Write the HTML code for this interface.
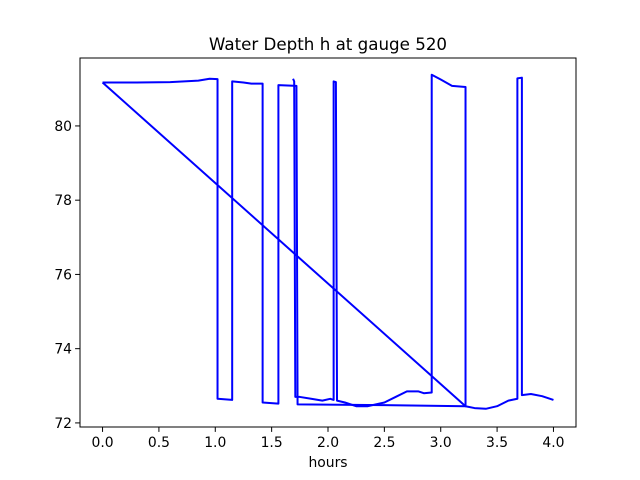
<!DOCTYPE html>
<html><head><meta charset="utf-8"><style>body{margin:0;background:#fff}svg{display:block;font-family:"DejaVu Sans","Liberation Sans",sans-serif}</style></head>
<body>
<svg id="c" width="640" height="480"></svg>
<script>
const xTicks=[0,0.5,1.0,1.5,2.0,2.5,3.0,3.5,4.0];
const xTickLabels=["0.0","0.5","1.0","1.5","2.0","2.5","3.0","3.5","4.0"];
const yTicks=[72,74,76,78,80];
const yTickLabels=["72","74","76","78","80"];
const hoursA=[0,0.3,0.6,0.85,0.95,1.02,1.02,1.15,1.15,1.25,1.32,1.42,1.42,1.56,1.56,1.72,1.73,2.5,3.22,0];
const depthA=[81.17,81.17,81.18,81.22,81.27,81.26,72.65,72.62,81.2,81.17,81.14,81.14,72.55,72.52,81.1,81.08,72.5,72.48,72.45,81.17];
const hoursB=[1.69,1.70,1.71,1.75,1.85,1.95,2.02,2.05,2.05,2.07,2.08,2.15,2.25,2.35,2.5,2.6,2.7,2.8,2.85,2.92,2.92,3.0,3.1,3.22,3.22,3.3,3.4,3.5,3.6,3.68,3.68,3.72,3.72,3.8,3.9,4.0];
const depthB=[81.27,81.2,72.7,72.7,72.65,72.6,72.65,72.62,81.2,81.18,72.6,72.55,72.45,72.45,72.55,72.7,72.85,72.85,72.8,72.82,81.38,81.25,81.08,81.05,72.45,72.4,72.38,72.45,72.6,72.65,81.28,81.3,72.75,72.78,72.72,72.62];
const L=80,R=576,T=58,B=427,x0=-0.2,x1=4.2,y0=71.89,y1=81.83;
const X=v=>L+(v-x0)/(x1-x0)*(R-L), Y=v=>B-(v-y0)/(y1-y0)*(B-T);
const svg=document.getElementById('c'),NS='http://www.w3.org/2000/svg';
function mk(t,a,p){const e=document.createElementNS(NS,t);for(const k in a)e.setAttribute(k,a[k]);(p||svg).appendChild(e);return e;}
function line(h,d,name){const el=mk('polyline',{points:h.map((v,i)=>X(v)+','+Y(d[i])).join(' '),fill:'none',stroke:'#0000ff','stroke-width':2,'stroke-linejoin':'round'});

}
line(hoursA,depthA,'depth-line-a');
line(hoursB,depthB,'depth-line-b');
const fr=mk('rect',{x:L,y:T,width:R-L,height:B-T,fill:'none',stroke:'#000','stroke-width':1});


xTicks.forEach((v,i)=>{mk('line',{x1:X(v),x2:X(v),y1:B,y2:B+4.9,stroke:'#000'});
const t=mk('text',{x:X(v),y:B+20,'font-size':13.9,'text-anchor':'middle'});t.textContent=xTickLabels[i];

});
yTicks.forEach((v,i)=>{mk('line',{x1:L-4.9,x2:L,y1:Y(v),y2:Y(v),stroke:'#000'});
const t=mk('text',{x:L-8,y:Y(v)+5,'font-size':13.9,'text-anchor':'end'});t.textContent=yTickLabels[i];

});
const ti=mk('text',{x:328,y:50,'font-size':16.7,'text-anchor':'middle'});ti.textContent='Water Depth h at gauge 520';


const xl=mk('text',{x:328,y:467,'font-size':13.9,'text-anchor':'middle'});xl.textContent='hours';


</script>
</body></html>
